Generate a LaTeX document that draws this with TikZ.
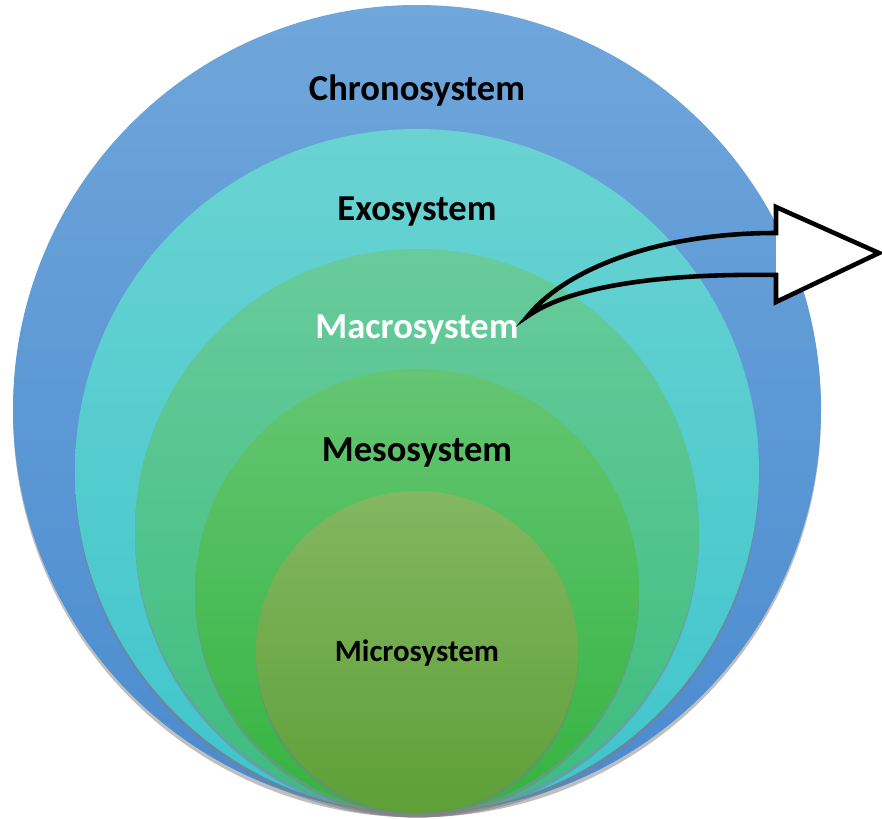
\documentclass[tikz,border=0pt]{standalone}
\usepackage{fontspec}
\setmainfont{Carlito}
\usetikzlibrary{shadows}

\definecolor{chronoTop}{HTML}{6FA6DB}
\definecolor{chronoBot}{HTML}{4A8BCF}
\definecolor{exoTop}{HTML}{6AD3D2}
\definecolor{exoBot}{HTML}{3EC5CC}
\definecolor{macroTop}{HTML}{68CB9C}
\definecolor{macroBot}{HTML}{3CBC7E}
\definecolor{mesoTop}{HTML}{64C673}
\definecolor{mesoBot}{HTML}{35B33F}
\definecolor{microTop}{HTML}{83B762}
\definecolor{microBot}{HTML}{5E9F37}

\tikzset{
  layer/.style={drop shadow={shadow xshift=0pt, shadow yshift=-2.5pt, opacity=.5}},
  syslabel/.style={font=\bfseries\fontsize{20.8}{24}\selectfont, inner sep=0pt},
  arrowline/.style={line width=2.6pt, line join=miter}
}

\begin{document}
\begin{tikzpicture}[x=0.02cm, y=-0.02cm]
        \useasboundingbox (0,0) rectangle (882,818);
        \def\cx{417} % common centre line
        \def\by{813} % common bottom point

        % Chronosystem
        \shade[layer, top color=chronoTop, bottom color=chronoBot] (\cx,\by-404) circle (404);

        % Exosystem
        \shade[layer, top color=exoTop, bottom color=exoBot] (\cx,\by-342) circle (342);

        % Macrosystem
        \shade[layer, top color=macroTop, bottom color=macroBot] (\cx,\by-282) circle (282);

        % Mesosystem
        \shade[layer, top color=mesoTop, bottom color=mesoBot] (\cx,\by-222) circle (222);

        % Microsystem
        \shade[layer, top color=microTop, bottom color=microBot] (\cx,\by-161) circle (161);

        % Labels
        \node[syslabel] (chrono) at (\cx,91) {Chronosystem};
        \node[syslabel] (exo) at (\cx,212) {Exosystem};
        \node[syslabel, text=white] (macro) at (\cx,330) {Macrosystem};
        \node[syslabel] (meso) at (\cx,453) {Mesosystem};
        \node[syslabel, font=\bfseries\fontsize{17.6}{20}\selectfont] (micro) at (\cx,653) {Microsystem};

        % Curved arrow
        \coordinate (tail) at ([shift={(9,-14)}]macro.east);
        \coordinate (tip) at (879,253);
        \fill[white] (776,207) -- (tip) -- (776,302) -- cycle;
        \draw[arrowline] (tail) .. controls (565,270) and (655,233) .. (776,233)
            -- (776,207) -- (tip) -- (776,302) -- (776,275)
            .. controls (645,273) and (565,290) .. (tail) -- cycle;
    \end{tikzpicture}
\end{document}
